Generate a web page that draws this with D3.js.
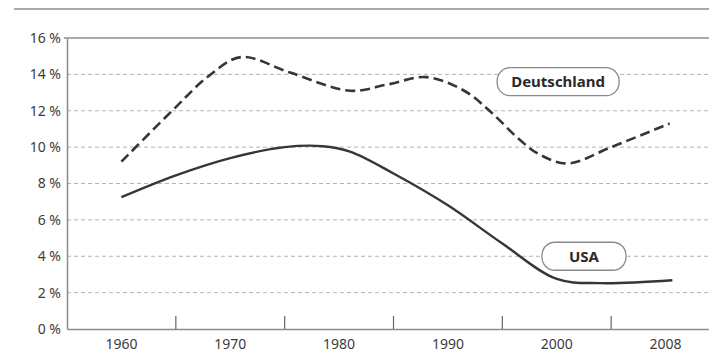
<!DOCTYPE html>
<html>
<head>
<meta charset="utf-8">
<script src="https://cdn.jsdelivr.net/npm/d3@7"></script>
<style>
  body { margin: 0; background: #fff; }
  svg { display: block; }
</style>
</head>
<body>
<svg width="709" height="360"></svg>
<script>
var svg = d3.select('svg');
var width = +svg.attr('width');
var height = +svg.attr('height');

// category labels on the x axis
var years = ['1960', '1970', '1980', '1990', '2000', '2008'];
var yTicks = [0, 2, 4, 6, 8, 10, 12, 14, 16];

// values, [year, percent]
var deutschland = [
	[1960, 9.2], [1965, 12.2], [1968, 13.9], [1971, 14.95], [1975.5, 14.1],
	[1981, 13.1], [1984.5, 13.45], [1988, 13.85], [1991.5, 13.1], [1994, 11.9],
	[1996.6, 10.4], [1998.4, 9.6], [2000.8, 9.1], [2004, 10.0], [2008.3, 11.3]
];
var usa = [
	[1960, 7.25], [1965, 8.45], [1970, 9.4], [1975, 10.0], [1978.5, 10.05],
	[1981, 9.75], [1985, 8.55], [1990, 6.8], [1995, 4.7],
	[2000, 2.75], [2003.2, 2.52], [2008.5, 2.68]
];

var labels = [
	{name: 'Deutschland', year: 2000.1, value: 13.6},
	{name: 'USA', year: 2002, value: 4.0}
];

var margin = {left: 67, top: 38, bottom: 329, right: 720};

// band scale for the category axis
var xBand = d3.scaleBand().domain(years).range([margin.left, margin.right]);

// piecewise scale so curves line up with the band centres
var x = d3.scaleLinear()
	.domain(years.map(Number))
	.range(years.map(function(d) { return xBand(d) + xBand.bandwidth() / 2; }));

var y = d3.scaleLinear().domain([0, 16]).range([margin.bottom, margin.top]);

var ink = '#363636';
var axisGrey = '#8c8c8c';
var font = 'Noto Sans, sans-serif';

//Top rule above the chart
svg.append('line')
	.attr('x1', 14).attr('x2', width)
	.attr('y1', 9).attr('y2', 9)
	.attr('stroke', axisGrey).attr('stroke-width', 1.5);

//Dashed gridlines
svg.append('g')
	.selectAll('line')
	.data(yTicks.filter(function(d) { return d > 0 && d < 16; }))
	.enter().append('line')
	.attr('x1', margin.left).attr('x2', width)
	.attr('y1', function(d) { return y(d); })
	.attr('y2', function(d) { return y(d); })
	.attr('stroke', '#b4b4b4')
	.attr('stroke-width', 1)
	.attr('stroke-dasharray', '4,3');

//Top border of the plot
svg.append('line')
	.attr('x1', margin.left - 3).attr('x2', width)
	.attr('y1', y(16)).attr('y2', y(16))
	.attr('stroke', axisGrey).attr('stroke-width', 1.5);

//Y axis
var yAxis = d3.axisLeft(y)
	.tickValues(yTicks)
	.tickSize(0)
	.tickPadding(6)
	.tickFormat(function(d) { return d + ' %'; });
var gy = svg.append('g')
	.attr('transform', 'translate(' + margin.left + ',0)')
	.call(yAxis);
gy.select('.domain').attr('stroke', axisGrey).attr('stroke-width', 1.5);
gy.selectAll('text')
	.attr('font-family', font)
	.attr('font-size', 14)
	.attr('fill', '#3c3c3c');

//X axis with ticks between the categories
var gx = svg.append('g')
	.attr('transform', 'translate(0,' + margin.bottom + ')')
	.call(d3.axisBottom(xBand).tickSize(0).tickPadding(10));
gx.select('.domain').attr('stroke', axisGrey).attr('stroke-width', 1.5);
gx.selectAll('text')
	.attr('font-family', font)
	.attr('font-size', 14)
	.attr('fill', '#3c3c3c');
gx.selectAll('line.sep')
	.data(years.slice(1))
	.enter().append('line')
	.attr('class', 'sep')
	.attr('x1', function(d) { return xBand(d); })
	.attr('x2', function(d) { return xBand(d); })
	.attr('y1', 0).attr('y2', -13)
	.attr('stroke', '#666').attr('stroke-width', 1.2);

//Curves
var line = d3.line()
	.x(function(d) { return x(d[0]); })
	.y(function(d) { return y(d[1]); })
	.curve(d3.curveCatmullRom.alpha(0.5));

svg.append('path')
	.datum(deutschland)
	.attr('d', line)
	.attr('fill', 'none')
	.attr('stroke', ink)
	.attr('stroke-width', 2.6)
	.attr('stroke-dasharray', '10,5');

svg.append('path')
	.datum(usa)
	.attr('d', line)
	.attr('fill', 'none')
	.attr('stroke', ink)
	.attr('stroke-width', 2.4);

//Series labels in rounded boxes
var lab = svg.append('g')
	.selectAll('g')
	.data(labels)
	.enter().append('g')
	.attr('transform', function(d) {
		return 'translate(' + x(d.year) + ',' + y(d.value) + ')';
	});

lab.append('text')
	.text(function(d) { return d.name; })
	.attr('text-anchor', 'middle')
	.attr('dy', '0.36em')
	.attr('font-family', font)
	.attr('font-weight', 'bold')
	.attr('font-size', 15)
	.attr('fill', '#2a2a2a');

lab.insert('rect', 'text')
	.each(function() {
		var t = this.parentNode.querySelector('text').getBBox();
		var w = Math.max(t.width + 28, 84);
		d3.select(this)
			.attr('x', -w / 2).attr('y', -14)
			.attr('width', w).attr('height', 28)
			.attr('rx', 13).attr('ry', 13);
	})
	.attr('fill', '#fff')
	.attr('stroke', '#8a8a8a')
	.attr('stroke-width', 1.3);
</script>
</body>
</html>
